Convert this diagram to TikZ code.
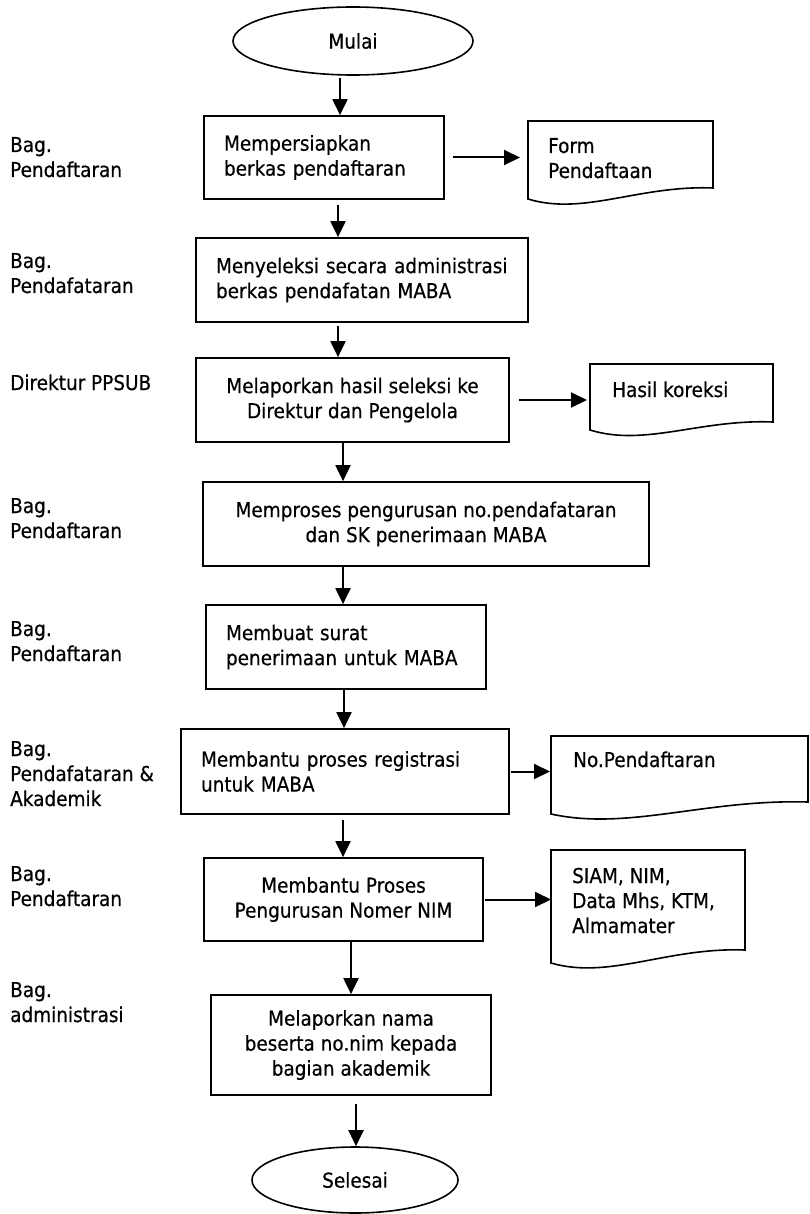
\documentclass[tikz,border=0pt]{standalone}
\usepackage{fontspec}
\setmainfont{DejaVu Sans}[FakeStretch=0.9,FakeBold=0.5]
\usetikzlibrary{arrows.meta,shapes.geometric,calc}
\newcommand\docshape[5]{%
  \draw[docline] (#1,#2) -- ({#1+#3},#2) -- ({#1+#3},{#2+#4-#5})
    .. controls ({#1+0.6*#3},{#2+#4-#5-3}) and ({#1+0.3*#3},{#2+#4+17}) .. (#1,{#2+#4}) -- cycle;}
\begin{document}
\begin{tikzpicture}[x=1pt,y=-1pt,
  font=\fontsize{20.5}{25}\selectfont,
  term/.style={draw,ellipse,line width=1.6pt,inner sep=0pt},
  lbox/.style={draw,rectangle,line width=1.7pt,inner ysep=0pt,inner xsep=20pt,align=left},
  cbox/.style={draw,rectangle,line width=1.7pt,inner sep=0pt,align=center},
  docbox/.style={rectangle,inner sep=0pt,anchor=north west},
  docline/.style={line width=1.6pt},
  txt/.style={anchor=base west,align=left,inner sep=0pt},
  arr/.style={line width=2pt,-{Triangle[length=16pt,width=15pt]}}]
\useasboundingbox (0,0) rectangle (810,1214);

% terminals
\node[term,minimum width=240pt,minimum height=68pt] (start) at (353,41) {Mulai};
\node[term,minimum width=206pt,minimum height=66pt] (stop) at (355,1180) {Selesai};

% process boxes
\node[lbox,minimum width=240pt,minimum height=83pt,text width=200pt] (b1) at (324,157.5) {Mempersiapkan\\berkas pendaftaran};
\node[lbox,minimum width=332pt,minimum height=84pt,text width=292pt] (b2) at (362,280) {Menyeleksi secara administrasi\\berkas pendafatan MABA};
\node[cbox,minimum width=313pt,minimum height=84pt] (b3) at (352.5,400) {Melaporkan hasil seleksi ke\\Direktur dan Pengelola};
\node[cbox,minimum width=446pt,minimum height=84pt] (b4) at (426,524) {Memproses pengurusan no.pendafataran\\dan SK penerimaan MABA};
\node[lbox,minimum width=280pt,minimum height=84pt,text width=240pt] (b5) at (346,647) {Membuat surat\\penerimaan untuk MABA};
\node[lbox,minimum width=328pt,minimum height=85pt,text width=288pt] (b6) at (345,771.5) {Membantu proses registrasi\\untuk MABA};
\node[cbox,minimum width=279pt,minimum height=83pt] (b7) at (343.5,899.5) {Membantu Proses\\Pengurusan Nomer NIM};
\node[cbox,minimum width=280pt,minimum height=100pt] (b8) at (351,1045) {Melaporkan nama\\beserta no.nim kepada\\bagian akademik};

% documents (text nodes placed at the baseline of their last line)
\node[docbox,minimum width=185pt,minimum height=78pt] (d1) at (528,121) {};
\docshape{528}{121}{185}{78}{11}
\node[txt] (d1t) at (548,178) {Form\\Pendaftaan};
\node[docbox,minimum width=183pt,minimum height=66pt] (d2) at (590,364) {};
\docshape{590}{364}{183}{66}{8}
\node[txt] (d2t) at (612,397) {Hasil koreksi};
\node[docbox,minimum width=257pt,minimum height=78pt] (d3) at (551,736) {};
\docshape{551}{736}{257}{78}{12}
\node[txt] (d3t) at (573,767) {No.Pendaftaran};
\node[docbox,minimum width=194pt,minimum height=113pt] (d4) at (551,850) {};
\docshape{551}{850}{194}{113}{13}
\node[txt] (d4t) at (572,933) {SIAM, NIM,\\Data Mhs, KTM,\\Almamater};

% left labels
\node[txt] (l1) at (10,177) {Bag.\\Pendaftaran};
\node[txt] (l2) at (10,293) {Bag.\\Pendafataran};
\node[txt] (l3) at (10,390) {Direktur PPSUB};
\node[txt] (l4) at (10,538) {Bag.\\Pendaftaran};
\node[txt] (l5) at (10,661) {Bag.\\Pendaftaran};
\node[txt] (l6) at (10,806) {Bag.\\Pendafataran \&\\Akademik};
\node[txt] (l7) at (10,906) {Bag.\\Pendaftaran};
\node[txt] (l8) at (10,1022) {Bag.\\administrasi};

% vertical flow
\draw[arr] ([xshift=-13pt,yshift=-2pt]start.south) -- ([xshift=-13pt]start.south |- b1.north);
\draw[arr] ([xshift=14pt,yshift=-5pt]b1.south) -- ([xshift=14pt]b1.south |- b2.north);
\draw[arr] ([xshift=-24pt,yshift=-3pt]b2.south) -- ([xshift=-24pt]b2.south |- b3.north);
\draw[arr] ([xshift=-9.5pt]b3.south) -- ([xshift=-9.5pt]b3.south |- b4.north);
\draw[arr] ([xshift=-83pt]b4.south) -- ([xshift=-83pt]b4.south |- b5.north);
\draw[arr] ([xshift=-2pt]b5.south) -- ([xshift=-2pt]b5.south |- b6.north);
\draw[arr] ([xshift=-2pt,yshift=-5pt]b6.south) -- ([xshift=-2pt]b6.south |- b7.north);
\draw[arr] ([xshift=7.5pt]b7.south) -- ([xshift=7.5pt]b7.south |- b8.north);
\draw[arr] ([xshift=5pt,yshift=-8pt]b8.south) -- ([xshift=5pt]b8.south |- stop.north);

% outputs
\path (b1.east -| d1.west) coordinate (a1);
\path (b3.east -| d2.west) coordinate (a2);
\path (b6.east -| d3.west) coordinate (a3);
\path (b7.east -| d4.west) coordinate (a4);
\draw[arr] ([xshift=8pt]b1.east) -- ([xshift=-8pt]a1);
\draw[arr] ([xshift=9pt]b3.east) -- ([xshift=-3pt]a2);
\draw[arr] ([xshift=1pt]b6.east) -- ([xshift=-1pt]a3);
\draw[arr] ([xshift=1pt]b7.east) -- (a4);
\end{tikzpicture}
\end{document}
